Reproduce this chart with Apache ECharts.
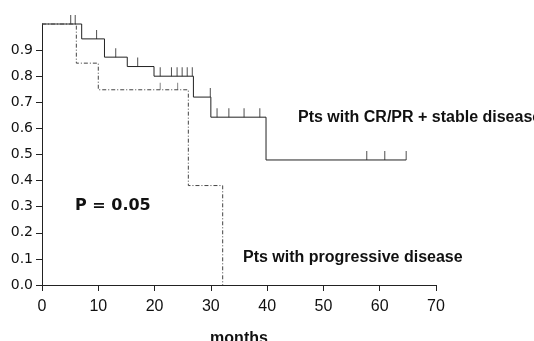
<!DOCTYPE html>
<html>
<head>
<meta charset="utf-8">
<script src="https://cdn.jsdelivr.net/npm/echarts@6/dist/echarts.min.js"></script>
<style>
  html, body { margin: 0; padding: 0; background: #fff; }
  #chart { width: 534px; height: 341px; }
</style>
</head>
<body>
<div id="chart"></div>
<script>
// Kaplan-Meier steps: [month, survival]
const stableSteps = [[0, 1], [7.05, 0.943], [11.1, 0.873], [15.15, 0.837], [19.9, 0.8], [26.9, 0.72], [30, 0.643], [39.8, 0.479], [64.7, 0.479]];
const stableCensored = [[5.1, 1], [5.9, 1], [9.7, 0.943], [13.1, 0.873], [17.0, 0.837], [21.0, 0.8], [23.0, 0.8], [24.0, 0.8], [24.9, 0.8], [25.8, 0.8], [26.7, 0.8], [29.9, 0.72], [31.1, 0.643], [33.2, 0.643], [35.9, 0.643], [38.7, 0.643], [57.7, 0.479], [60.9, 0.479], [64.7, 0.479]];
const progSteps = [[0, 1], [6.1, 0.85], [10.0, 0.748], [26.0, 0.381], [32.1, 0], [32.1, 0]];
const progCensored = [[21.0, 0.748], [24.1, 0.748]];
const yTicks = [0, 0.1, 0.2, 0.3, 0.4, 0.5, 0.6, 0.7, 0.8, 0.9];

const chart = echarts.init(document.getElementById("chart"));

const axisColor = "#222";

chart.setOption({
  animation: false,
  grid: { left: 42, right: 98, top: 24, bottom: 56, outerBoundsMode: "none" },
  xAxis: {
    type: "value",
    min: 0,
    max: 70,
    interval: 10,
    name: "months",
    nameLocation: "middle",
    nameGap: 46,
    nameTextStyle: { fontFamily: "Liberation Sans", fontWeight: "bold", fontSize: 16, color: "#111" },
    axisLine: { lineStyle: { color: axisColor, width: 1 } },
    axisTick: { length: 6, lineStyle: { color: axisColor } },
    axisLabel: { fontFamily: "Liberation Sans", fontSize: 16, color: "#111", margin: 14 },
    splitLine: { show: false },
  },
  yAxis: {
    type: "value",
    min: 0,
    max: 1,
    axisLine: { show: true, lineStyle: { color: axisColor, width: 1 } },
    axisTick: { show: true, length: 6, customValues: yTicks, lineStyle: { color: axisColor } },
    axisLabel: {
      customValues: yTicks,
      fontFamily: "DejaVu Sans",
      fontSize: 14,
      color: "#111",
      margin: 9,
      formatter: (v) => v.toFixed(1),
    },
    splitLine: { show: false },
  },
  series: [
    {
      name: "Pts with CR/PR + stable disease",
      type: "line",
      step: "end",
      data: stableSteps,
      symbol: "none",
      clip: false,
      lineStyle: { color: "#222", width: 1 },
    },
    {
      name: "Pts with progressive disease",
      type: "line",
      step: "end",
      data: progSteps,
      symbol: "none",
      clip: false,
      lineStyle: { color: "#444", width: 1, type: [4, 2, 1, 2] },
    },
    {
      type: "scatter",
      data: stableCensored,
      symbol: "rect",
      symbolSize: [1, 9],
      symbolOffset: [0, -4.5],
      clip: false,
      itemStyle: { color: "#222" },
    },
    {
      type: "scatter",
      data: progCensored,
      symbol: "rect",
      symbolSize: [1, 7],
      symbolOffset: [0, -3.5],
      clip: false,
      itemStyle: { color: "#666" },
    },
  ],
  graphic: [
    {
      type: "text",
      left: 298,
      top: 110,
      style: { text: "Pts with CR/PR + stable disease", fontFamily: "Liberation Sans", fontWeight: "bold", fontSize: 16, fill: "#111" },
    },
    {
      type: "text",
      left: 243,
      top: 250,
      style: { text: "Pts with progressive disease", fontFamily: "Liberation Sans", fontWeight: "bold", fontSize: 16, fill: "#111" },
    },
    {
      type: "text",
      left: 75,
      top: 198,
      style: { text: "P = 0.05", fontFamily: "DejaVu Sans", fontWeight: "bold", fontSize: 16, fill: "#111" },
    },
  ],
});
</script>
</body>
</html>
